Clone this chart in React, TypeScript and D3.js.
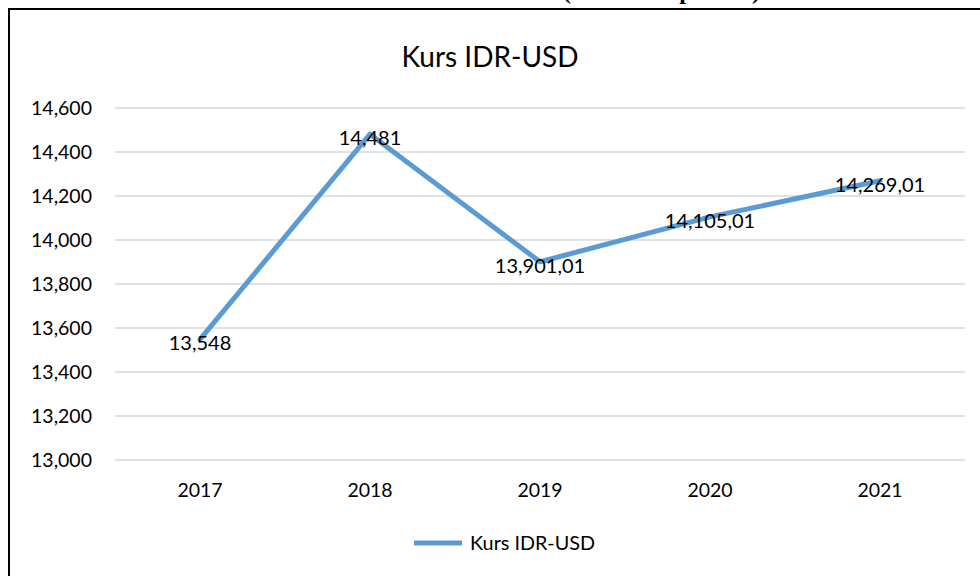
import * as React from 'react'
import * as d3 from 'd3'

const years = ['2017', '2018', '2019', '2020', '2021']
const kurs = [13548, 14481, 13901.01, 14105.01, 14269.01]
const kursLabels = ['13,548', '14,481', '13,901,01', '14,105,01', '14,269,01']
const yTicks = [13000, 13200, 13400, 13600, 13800, 14000, 14200, 14400, 14600]

const W = 980
const H = 576
const font = "Lato, 'Open Sans', sans-serif"
const serif = "'Liberation Serif', 'Times New Roman', serif"

export default function App() {
  const x = d3.scaleBand().domain(years).range([115, 965])
  const y = d3.scaleLinear().domain([13000, 14600]).range([460, 108])
  const cx = (d: string) => (x(d) || 0) + x.bandwidth() / 2

  const line = d3
    .line<number>()
    .x((_, i) => cx(years[i]))
    .y((d) => y(d))

  return (
    <svg
      width={W}
      height={H}
      style={{ position: 'absolute', left: 0, top: 0, background: '#fff' }}
    >
      {/* caption of the document, cut off by the top edge */}
      <text x={557} y={-1} textAnchor="end" fontFamily={serif} fontWeight="bold" fontSize={24} textLength={227} fill="#000">
        Tahun 2017 - 2021
      </text>
      <text x={563} y={-1} fontFamily={serif} fontWeight="bold" fontSize={24} textLength={197} fill="#000">
        (data terpakai)
      </text>
      <rect x={9} y={9} width={W + 20} height={H + 20} fill="none" stroke="#000" strokeWidth={2} />
      <text x={490} y={67} textAnchor="middle" fontFamily={font} fontSize={28} fill="#000">
        Kurs IDR-USD
      </text>
      {yTicks.map((t) => (
        <g key={t}>
          <line x1={115} x2={965} y1={y(t)} y2={y(t)} stroke="#d9d9d9" strokeWidth={1.5} />
          <text x={92} y={y(t)} dy="0.35em" textAnchor="end" fontFamily={font} fontSize={19.5} fill="#000">
            {d3.format(',')(t)}
          </text>
        </g>
      ))}
      {years.map((yr) => (
        <text key={yr} x={cx(yr)} y={490} dy="0.35em" textAnchor="middle" fontFamily={font} fontSize={19.5} fill="#000">
          {yr}
        </text>
      ))}
      <path d={line(kurs) || ''} fill="none" stroke="#5b9bd5" strokeWidth={5} strokeLinejoin="round" strokeLinecap="round" />
      {kurs.map((v, i) => (
        <text
          key={i}
          x={cx(years[i])}
          y={y(v) + 4}
          dy="0.35em"
          textAnchor="middle"
          fontFamily={font}
          fontSize={20}
          fill="#000"
        >
          {kursLabels[i]}
        </text>
      ))}
      <line x1={414} x2={462} y1={543} y2={543} stroke="#5b9bd5" strokeWidth={5} />
      <text x={470} y={543} dy="0.35em" fontFamily={font} fontSize={19.8} fill="#000">
        Kurs IDR-USD
      </text>
    </svg>
  )
}
